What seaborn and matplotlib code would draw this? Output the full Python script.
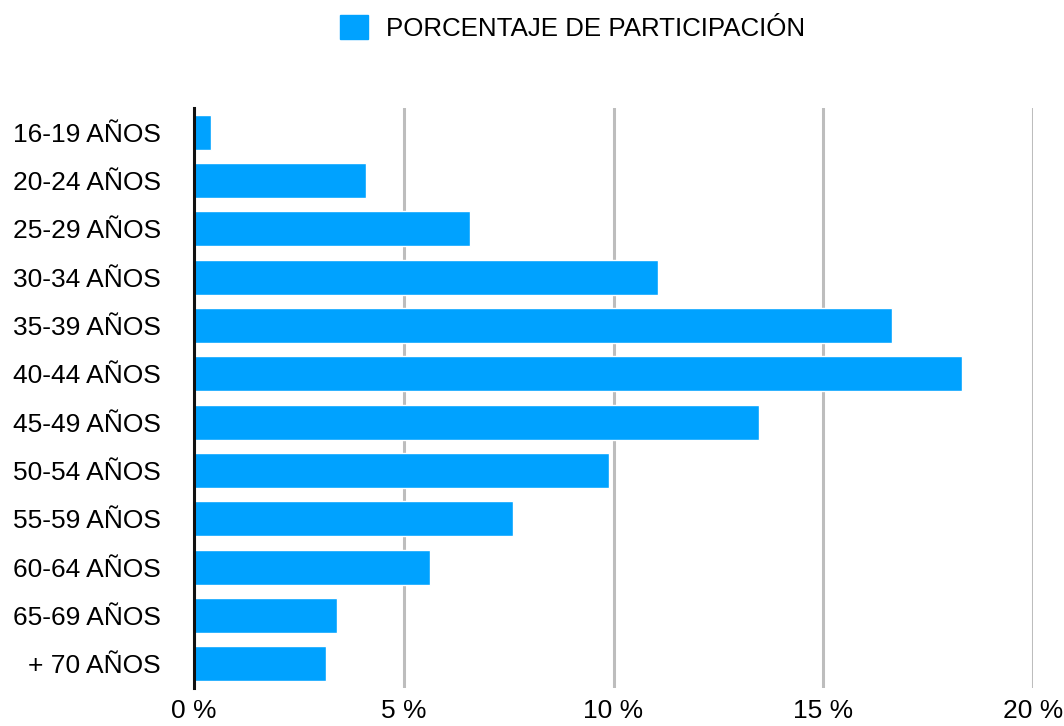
import matplotlib
matplotlib.use('Agg')
import matplotlib.pyplot as plt
from matplotlib.patches import Patch
from matplotlib.ticker import FuncFormatter
import seaborn as sns
import pandas as pd

grupos = ['16-19 AÑOS', '20-24 AÑOS', '25-29 AÑOS', '30-34 AÑOS', '35-39 AÑOS',
          '40-44 AÑOS', '45-49 AÑOS', '50-54 AÑOS', '55-59 AÑOS', '60-64 AÑOS',
          '65-69 AÑOS', '+ 70 AÑOS']
participacion = [0.41, 4.1, 6.59, 11.05, 16.63, 18.3, 13.46, 9.9, 7.61, 5.63, 3.41, 3.15]
xticks = [0, 5, 10, 15, 20]
serie = 'PORCENTAJE DE PARTICIPACIÓN'
color = '#00A2FF'


def main():
    df = pd.DataFrame({'grupo': grupos, 'valor': participacion})

    sns.set_style('white')
    plt.rcParams['font.family'] = ['Liberation Sans', 'DejaVu Sans']
    plt.rcParams['text.color'] = 'black'

    fig = plt.figure(figsize=(10.64, 7.26), dpi=100)
    ax = fig.add_axes([0.1823, 0.0523, 0.7886, 0.7989])

    sns.barplot(data=df, x='valor', y='grupo', orient='h', color=color,
                saturation=1, width=0.72, ax=ax)

    ax.set_xlim(0, 20)
    ax.set_ylim(len(grupos) - 0.5, -0.5)
    ax.set_xticks(xticks)
    ax.xaxis.set_major_formatter(FuncFormatter(lambda v, p: f'{v:.0f} %'))
    ax.set_xlabel('')
    ax.set_ylabel('')
    ax.tick_params(axis='both', length=0, labelsize=19, colors='black')
    ax.tick_params(axis='x', pad=8)
    ax.tick_params(axis='y', pad=24)

    ax.set_axisbelow(True)
    ax.grid(axis='x', color='#bdbdbd', linewidth=2.2)
    ax.grid(axis='y', visible=False)
    for s in ['top', 'right', 'bottom']:
        ax.spines[s].set_visible(False)
    ax.spines['left'].set_color('#111111')
    ax.spines['left'].set_linewidth(2.2)
    ax.spines['left'].set_zorder(5)

    fig.legend(handles=[Patch(color=color, label=serie)], loc='upper center',
               bbox_to_anchor=(0.538, 1.012), frameon=False, fontsize=18.6,
               handlelength=1.1, handleheight=1.1, handletextpad=0.7,
               labelcolor='black')

    fig.savefig('out.png', dpi=100)


if __name__ == '__main__':
    main()
